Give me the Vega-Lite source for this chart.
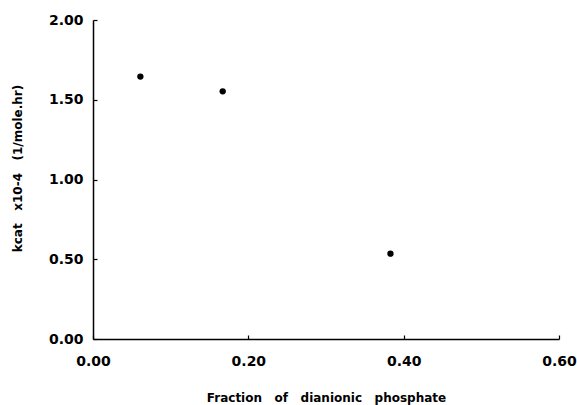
{
  "$schema": "https://vega.github.io/schema/vega-lite/v6.json",
  "autosize": "none",
  "width": 466,
  "height": 319,
  "padding": {"left": 93, "top": 20, "right": 18, "bottom": 66},
  "background": "white",
  "config": {
    "view": {"stroke": null},
    "axis": {
      "grid": false,
      "labelFlush": false,
      "labelOverlap": false,
      "domainColor": "black",
      "domainWidth": 1.5,
      "tickColor": "black",
      "tickWidth": 1.2,
      "tickSize": -4,
      "labelFont": "DejaVu Sans",
      "labelFontWeight": "bold",
      "labelFontSize": 14,
      "labelColor": "black",
      "titleFont": "DejaVu Sans",
      "titleFontWeight": "bold",
      "titleFontSize": 12,
      "titleColor": "black"
    }
  },
  "data": {
    "values": [
      {"fraction": 0.061, "kcat": 1.645},
      {"fraction": 0.167, "kcat": 1.553},
      {"fraction": 0.383, "kcat": 0.535}
    ]
  },
  "mark": {"type": "point", "filled": true, "color": "black", "opacity": 1, "size": 40},
  "encoding": {
    "x": {
      "field": "fraction",
      "type": "quantitative",
      "scale": {"domain": [0, 0.6], "nice": false, "zero": false},
      "axis": {
        "values": [0, 0.2, 0.4, 0.6],
        "format": ".2f",
        "labelPadding": 19,
        "title": "Fraction\u00a0\u00a0\u00a0of\u00a0\u00a0\u00a0dianionic\u00a0\u00a0\u00a0phosphate",
        "titleBaseline": "middle",
        "titleY": 58
      }
    },
    "y": {
      "field": "kcat",
      "type": "quantitative",
      "scale": {"domain": [0, 2], "nice": false, "zero": false},
      "axis": {
        "values": [0, 0.5, 1, 1.5, 2],
        "format": ".2f",
        "labelPadding": 14,
        "title": "kcat\u00a0\u00a0\u00a0x10-4\u00a0\u00a0\u00a0(1/mole.hr)",
        "titleBaseline": "middle",
        "titleAlign": "center",
        "titleAngle": -90,
        "titleX": -76,
        "titleY": 148
      }
    }
  }
}
